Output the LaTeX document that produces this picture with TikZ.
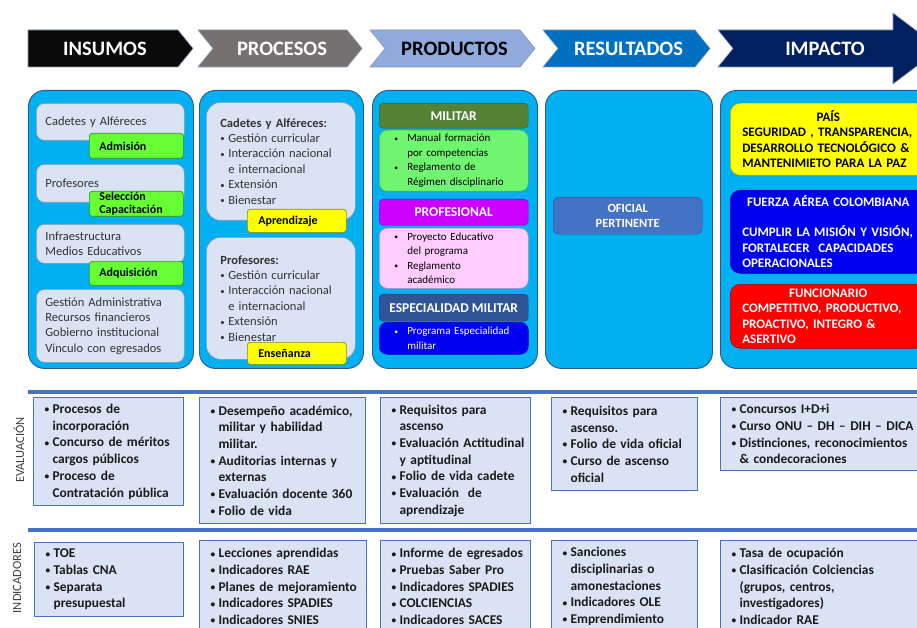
\documentclass[tikz,border=0pt]{standalone}
\usepackage{fontspec}
\setmainfont{Carlito}
\definecolor{insumos}{HTML}{0A0A0A}
\definecolor{procesos}{HTML}{767171}
\definecolor{productos}{HTML}{8FAADC}
\definecolor{resultados}{HTML}{0070C0}
\definecolor{impacto}{HTML}{002060}
\definecolor{chevedge}{HTML}{8497B0}
\definecolor{panelfill}{HTML}{00B0F0}
\definecolor{paneledge}{HTML}{2F5597}
\definecolor{lavender}{HTML}{DAE3F3}
\definecolor{lavedge}{HTML}{8497B0}
\definecolor{softtext}{HTML}{333333}
\definecolor{tagGreen}{HTML}{66FF33}
\definecolor{tagYellow}{HTML}{FFFF00}
\definecolor{militar}{HTML}{548235}
\definecolor{militarList}{HTML}{70F570}
\definecolor{profesional}{HTML}{CC00FF}
\definecolor{profesionalList}{HTML}{FFCCFF}
\definecolor{especialidad}{HTML}{2F5597}
\definecolor{especialidadList}{HTML}{0000F0}
\definecolor{oficial}{HTML}{4472C4}
\definecolor{pais}{HTML}{FFFF00}
\definecolor{fac}{HTML}{0000F0}
\definecolor{funcionario}{HTML}{FF0000}
\definecolor{rowline}{HTML}{4472C4}
\definecolor{rowtext}{HTML}{1A1A1A}
\definecolor{rowlabel}{HTML}{404040}

% bullet line and continuation line, never broken
\newcommand{\bl}[2][8pt]{\mbox{\makebox[#1][l]{\raisebox{0.12ex}{\scalebox{0.7}{\textbullet}}}#2}}
\newcommand{\nl}[2][8pt]{\mbox{\hspace*{#1}#2}}

\begin{document}
\begin{tikzpicture}[x=1pt,y=-1pt,
  headtxt/.style={font=\fontsize{20.5}{22}\selectfont\bfseries,text=white},
  panel/.style={draw=paneledge,fill=panelfill,line width=0.9pt,rounded corners=16pt,anchor=north west,inner sep=0pt},
  softbox/.style={draw=lavedge,fill=lavender,line width=0.7pt,rounded corners=8pt,anchor=north west,align=left,text=softtext,font=\fontsize{12.5}{15.4}\selectfont},
  tagbox/.style={draw=#1!55!black,fill=#1,line width=0.7pt,rounded corners=3pt,anchor=north west,align=left,inner ysep=0pt,font=\fontsize{12}{13}\selectfont\bfseries},
  headbox/.style={draw=#1!70!black,fill=#1,rounded corners=4pt,anchor=north west,align=center,inner sep=0pt,text=white,font=\fontsize{13.5}{14}\selectfont\bfseries},
  listbox/.style={draw=#1!70!black,fill=#1,line width=0.5pt,rounded corners=8pt,anchor=north west,align=left,inner xsep=15pt,font=\fontsize{11}{14.6}\selectfont},
  impbox/.style={draw=#1!70!black,fill=#1,line width=0.5pt,rounded corners=10pt,anchor=north west,align=left,inner xsep=12pt,font=\fontsize{13}{15.5}\selectfont\bfseries},
  rowbox/.style={draw=rowline,fill=lavender,line width=1.2pt,anchor=north west,align=left,inner xsep=11pt,inner ysep=5pt,text=rowtext,font=\fontsize{13.4}{16.7}\selectfont\bfseries},
  rowname/.style={rotate=90,text=rowlabel,font=\fontsize{12.5}{14}\selectfont}]
  \useasboundingbox (0,0) rectangle (917,628);
  \clip (0,0) rectangle (917,628);

  % Header chevrons
  \fill[insumos,draw=chevedge,line width=0.6pt] (28,30) -- (178,30) -- (193,48.5) -- (178,67) -- (28,67) -- cycle;
  \node[headtxt] (hInsumos) at (105,48.5) {INSUMOS};
  \foreach \xa/\xb/\col/\tcol/\nm/\txt in {198/362/procesos/white/hProcesos/PROCESOS,
      370/535/productos/black/hProductos/PRODUCTOS,543/710/resultados/white/hResultados/RESULTADOS} {
    \fill[\col,draw=chevedge,line width=0.6pt] (\xa,30) -- (\xb-15,30) -- (\xb,48.5) -- (\xb-15,67) -- (\xa,67) -- (\xa+15,48.5) -- cycle;
    \node[headtxt,text=\tcol] (\nm) at ({(\xa+\xb)/2+2},48.5) {\txt};
  }
  \fill[impacto,draw=chevedge,line width=0.6pt] (718,30) -- (893,30) -- (893,13) -- (940,48.5) -- (893,84) -- (893,67) -- (718,67) -- (733,48.5) -- cycle;
  \node[headtxt] (hImpacto) at (825,48.5) {IMPACTO};

  % Panels
  \node[panel,minimum width=165pt,minimum height=278pt] (pInsumos) at (28,90) {};
  \node[panel,minimum width=164pt,minimum height=278pt] (pProcesos) at (199,90) {};
  \node[panel,minimum width=165pt,minimum height=278pt] (pProductos) at (372,90) {};
  \node[panel,minimum width=167pt,minimum height=278pt] (pResultados) at (545,90) {};
  \node[panel,minimum width=215pt,minimum height=278pt] (pImpacto) at (720,90) {};

  % Insumos
  \node[softbox,inner xsep=9pt,text width=130pt,minimum height=37pt] (inCadetes) at (36,103) {Cadetes y Alféreces};
  \node[tagbox=tagGreen,inner xsep=10pt,text width=74pt,minimum height=25pt] (tAdmision) at (89,133) {Admisión};
  \node[softbox,inner xsep=9pt,text width=130pt,minimum height=38pt] (inProfesores) at (36,164) {Profesores};
  \node[tagbox=tagGreen,inner xsep=10pt,text width=74pt,minimum height=25pt] (tSeleccion) at (89,191) {Selección\\Capacitación};
  \node[softbox,inner xsep=9pt,text width=130pt,minimum height=39pt] (inInfra) at (36,224) {Infraestructura\\Medios Educativos};
  \node[tagbox=tagGreen,inner xsep=10pt,text width=74pt,minimum height=24pt] (tAdquisicion) at (89,261) {Adquisición};
  \node[softbox,inner xsep=9pt,text width=130pt,minimum height=73pt] (inGestion) at (36,289)
    {Gestión Administrativa\\Recursos financieros\\Gobierno institucional\\Vinculo con egresados};

  % Procesos
  \node[softbox,rounded corners=14pt,inner xsep=14pt,text width=121pt,minimum height=118pt] (prCadetes) at (206,102)
    {\textbf{Cadetes y Alféreces:}\\\bl{Gestión curricular}\\\bl{Interacción nacional}\\\nl{e internacional}\\\bl{Extensión}\\\bl{Bienestar}};
  \node[tagbox=tagYellow,inner xsep=11pt,text width=77pt,minimum height=23pt] (tAprendizaje) at (247,209) {Aprendizaje};
  \node[softbox,rounded corners=14pt,inner xsep=14pt,text width=121pt,minimum height=122pt] (prProfesores) at (206,237)
    {\textbf{Profesores:}\\\bl{Gestión curricular}\\\bl{Interacción nacional}\\\nl{e internacional}\\\bl{Extensión}\\\bl{Bienestar}};
  \node[tagbox=tagYellow,inner xsep=11pt,text width=77pt,minimum height=22pt] (tEnsenanza) at (247,342) {Enseñanza};

  % Productos
  \node[headbox=militar,minimum width=149pt,minimum height=25pt] (hMilitar) at (379,103) {MILITAR};
  \node[listbox=militarList,text width=119pt,minimum height=61pt] (lMilitar) at (379,130)
    {\bl[13pt]{Manual formación}\\\nl[13pt]{por competencias}\\\bl[13pt]{Reglamento de}\\\nl[13pt]{Régimen disciplinario}};
  \node[headbox=profesional,minimum width=149pt,minimum height=26pt] (hProfesional) at (379,199) {PROFESIONAL};
  \node[listbox=profesionalList,text width=119pt,minimum height=60pt] (lProfesional) at (379,228)
    {\bl[13pt]{Proyecto Educativo}\\\nl[13pt]{del programa}\\\bl[13pt]{Reglamento}\\\nl[13pt]{académico}};
  \node[headbox=especialidad,minimum width=149pt,minimum height=27pt] (hEspecialidad) at (379,294) {ESPECIALIDAD MILITAR};
  \node[listbox=especialidadList,text=white,text width=119pt,minimum height=32pt] (lEspecialidad) at (379,322)
    {\bl[13pt]{Programa Especialidad}\\\nl[13pt]{militar}};

  % Resultados
  \node[headbox=oficial,font=\fontsize{12.5}{15}\selectfont\bfseries,rounded corners=6pt,minimum width=149pt,minimum height=37pt] (rOficial) at (553,197) {OFICIAL\\PERTINENTE};

  % Impacto
  \node[impbox=pais,text width=172pt,minimum height=72pt] (iPais) at (730,103)
    {\makebox[172pt]{PAÍS}\\SEGURIDAD , TRANSPARENCIA,\\DESARROLLO TECNOLÓGICO \&\\MANTENIMIETO PARA LA PAZ};
  \node[impbox=fac,text=white,text width=172pt,minimum height=83pt] (iFac) at (730,190)
    {\makebox[172pt]{FUERZA AÉREA COLOMBIANA}\\[15pt]CUMPLIR LA MISIÓN Y VISIÓN,\\FORTALECER\ \ CAPACIDADES\\OPERACIONALES};
  \node[impbox=funcionario,text=white,text width=172pt,minimum height=64pt] (iFuncionario) at (730,284)
    {\makebox[172pt]{FUNCIONARIO}\\COMPETITIVO, PRODUCTIVO,\\PROACTIVO, INTEGRO \&\\ASERTIVO};

  % Evaluacion row
  \draw[rowline,line width=4pt] (28,392) -- (917,392);
  \node[rowname] (lblEval) at (19,450) {EVALUACIÓN};
  \node[rowbox,text width=128pt,minimum height=108pt] (eInsumos) at (33,397)
    {\bl{Procesos de}\\\nl{incorporación}\\\bl{Concurso de méritos}\\\nl{cargos públicos}\\\bl{Proceso de}\\\nl{Contratación pública}};
  \node[rowbox,text width=144pt,minimum height=126pt] (eProcesos) at (199,397)
    {\bl{Desempeño académico,}\\\nl{militar y habilidad}\\\nl{militar.}\\\bl{Auditorias internas y}\\\nl{externas}\\\bl{Evaluación docente 360}\\\bl{Folio de vida}};
  \node[rowbox,text width=128pt,minimum height=126pt] (eProductos) at (380,397)
    {\bl{Requisitos para}\\\nl{ascenso}\\\bl{Evaluación Actitudinal}\\\nl{y aptitudinal}\\\bl{Folio de vida cadete}\\\bl{Evaluación\ \ de}\\\nl{aprendizaje}};
  \node[rowbox,text width=124pt,minimum height=93pt] (eResultados) at (551,397)
    {\bl{Requisitos para}\\\nl{ascenso.}\\\bl{Folio de vida oficial}\\\bl{Curso de ascenso}\\\nl{oficial}};
  \node[rowbox,text width=190pt,minimum height=73pt] (eImpacto) at (720,397)
    {\bl{Concursos I+D+i}\\\bl{Curso ONU -- DH -- DIH -- DICA}\\\bl{Distinciones, reconocimientos}\\\nl{\& condecoraciones}};

  % Indicadores row
  \draw[rowline,line width=4pt] (28,530) -- (917,530);
  \node[rowname] (lblInd) at (17,578) {INDICADORES};
  \node[rowbox,text width=127pt,minimum height=74pt] (iInsumos) at (34,542)
    {\bl{TOE}\\\bl{Tablas CNA}\\\bl{Separata}\\\nl{presupuestal}};
  \node[rowbox,text width=145pt,minimum height=92pt] (iProcesos) at (199,540)
    {\bl{Lecciones aprendidas}\\\bl{Indicadores RAE}\\\bl{Planes de mejoramiento}\\\bl{Indicadores SPADIES}\\\bl{Indicadores SNIES}};
  \node[rowbox,text width=128pt,minimum height=92pt] (iProductos) at (380,540)
    {\bl{Informe de egresados}\\\bl{Pruebas Saber Pro}\\\bl{Indicadores SPADIES}\\\bl{COLCIENCIAS}\\\bl{Indicadores SACES}};
  \node[rowbox,text width=124pt,minimum height=92pt] (iResultados) at (551,540)
    {\bl{Sanciones}\\\nl{disciplinarias o}\\\nl{amonestaciones}\\\bl{Indicadores OLE}\\\bl{Emprendimiento}};
  \node[rowbox,text width=190pt,minimum height=92pt] (iImpacto) at (720,540)
    {\bl{Tasa de ocupación}\\\bl{Clasificación Colciencias}\\\nl{(grupos, centros,}\\\nl{investigadores)}\\\bl{Indicador RAE}};
\end{tikzpicture}
\end{document}
